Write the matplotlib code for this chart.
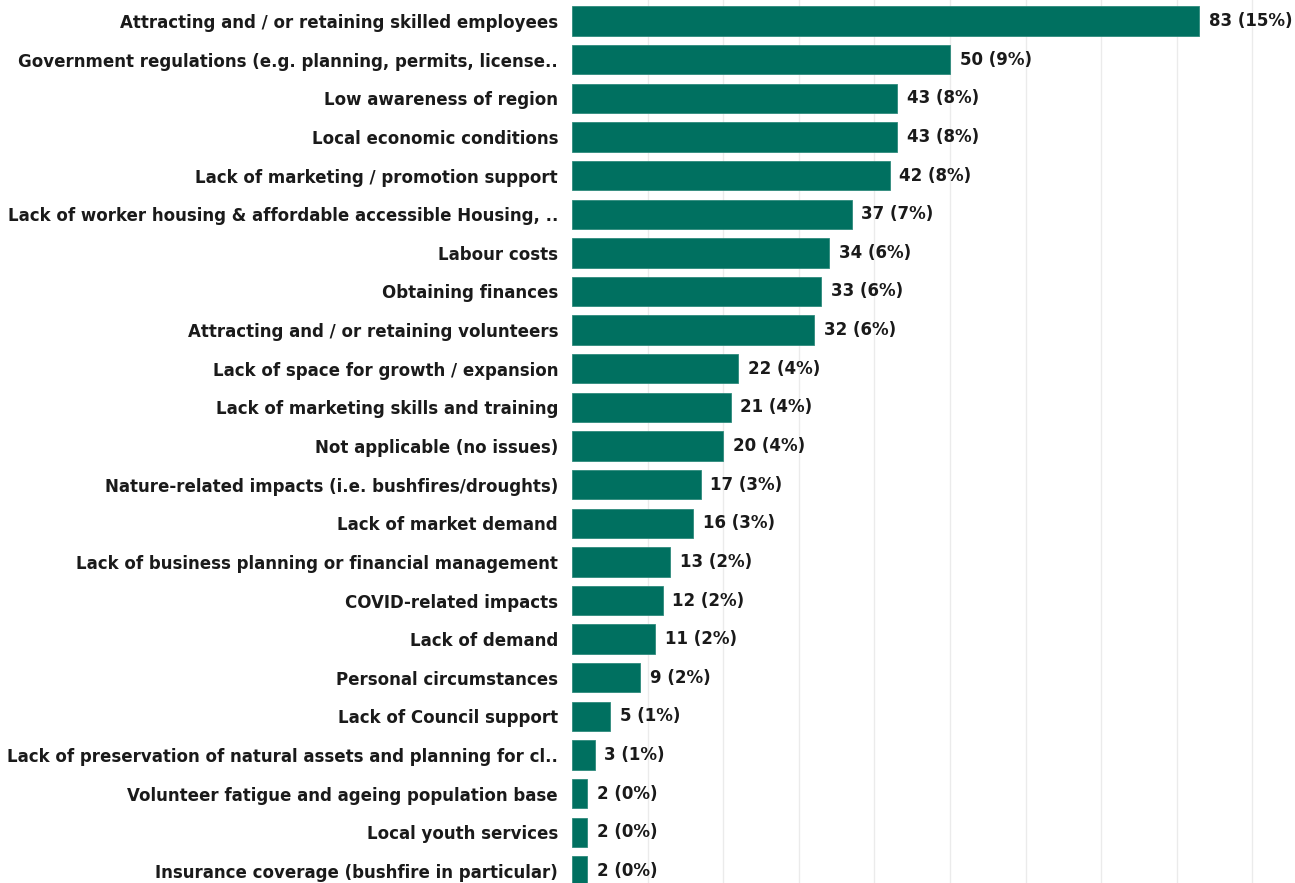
import matplotlib
matplotlib.use("Agg")
import matplotlib.pyplot as plt

categories = [
    "Attracting and / or retaining skilled employees",
    "Government regulations (e.g. planning, permits, license..",
    "Low awareness of region",
    "Local economic conditions",
    "Lack of marketing / promotion support",
    "Lack of worker housing & affordable accessible Housing, ..",
    "Labour costs",
    "Obtaining finances",
    "Attracting and / or retaining volunteers",
    "Lack of space for growth / expansion",
    "Lack of marketing skills and training",
    "Not applicable (no issues)",
    "Nature-related impacts (i.e. bushfires/droughts)",
    "Lack of market demand",
    "Lack of business planning or financial management",
    "COVID-related impacts",
    "Lack of demand",
    "Personal circumstances",
    "Lack of Council support",
    "Lack of preservation of natural assets and planning for cl..",
    "Volunteer fatigue and ageing population base",
    "Local youth services",
    "Insurance coverage (bushfire in particular)",
]
counts = [83, 50, 43, 43, 42, 37, 34, 33, 32, 22, 21, 20, 17, 16, 13, 12, 11, 9, 5, 3, 2, 2, 2]
percents = [15, 9, 8, 8, 8, 7, 6, 6, 6, 4, 4, 4, 3, 3, 2, 2, 2, 2, 1, 1, 0, 0, 0]
grid_ticks = [10, 20, 30, 40, 50, 60, 70, 80, 90]

W, H = 1295, 883
fig = plt.figure(figsize=(W / 100, H / 100), dpi=100)
x0 = 572
ax = fig.add_axes([x0 / W, 0, 1 - x0 / W, 1])

color = "#007060"
txt = "#1a1a1a"
font = "DejaVu Sans"

y = list(range(len(categories)))
ax.barh(y, counts, height=0.76, color=color, edgecolor="#2e8a7c", linewidth=0.6, zorder=2)

ax.set_xlim(0, (W - x0) / 7.56)
ax.set_ylim(22 + 12 / 38.6, -21 / 38.6)

ax.set_xticks(grid_ticks)
ax.xaxis.grid(True, color="#ebebeb", linewidth=1.0, zorder=0)
ax.tick_params(axis="x", length=0, labelbottom=False)
ax.set_yticks(y)
ax.set_yticklabels(categories, fontsize=12, fontweight="bold", color=txt, family=font)
ax.tick_params(axis="y", length=0, pad=10)
for s in ax.spines.values():
    s.set_visible(False)

for yi, c, p in zip(y, counts, percents):
    ax.annotate(f"{c} ({p}%)", xy=(c, yi), xytext=(7, 0), textcoords="offset points",
                va="center", ha="left", fontsize=12, fontweight="bold", color=txt,
                family=font)

fig.savefig("out.png", dpi=100)
